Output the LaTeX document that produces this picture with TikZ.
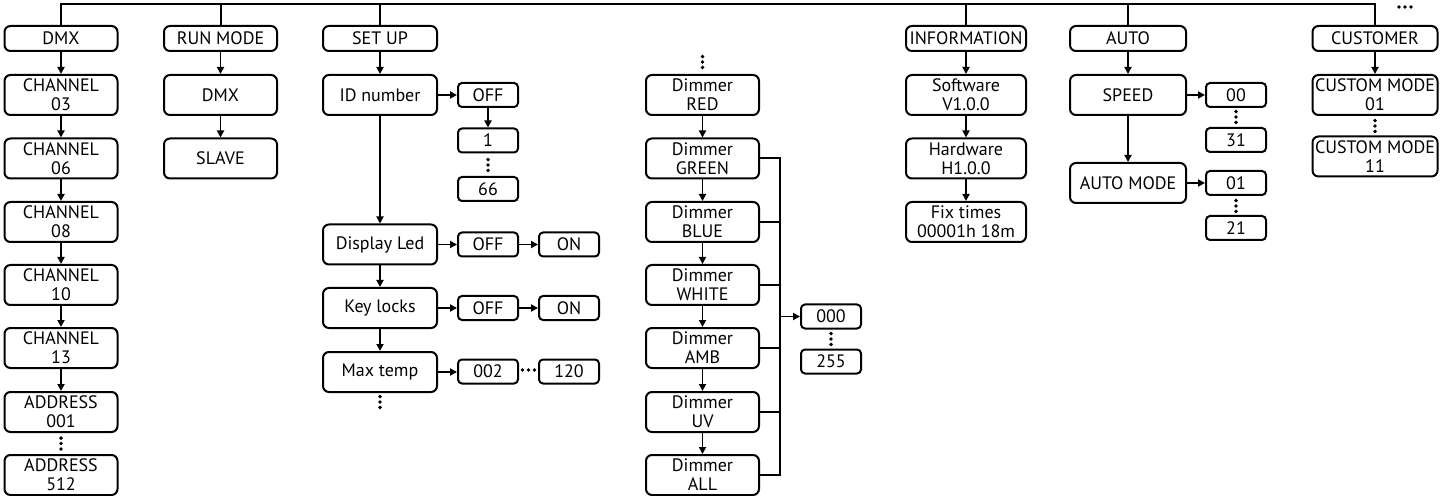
\documentclass[tikz,border=0pt]{standalone}
\usepackage{fontspec}
\setmainfont{PT Sans}
\usetikzlibrary{arrows.meta}

\begin{document}
\begin{tikzpicture}[x=0.5pt, y=-0.5pt, line width=1pt,
  menubox/.style={draw, rounded corners=3pt, minimum width=56.5pt, minimum height=20pt, inner sep=0pt, align=center, font=\fontsize{9}{9.4}\selectfont},
  headbox/.style={menubox, minimum height=12.5pt},
  valbox/.style={menubox, rounded corners=2pt, minimum width=30pt, minimum height=12pt},
  arr/.style={-{Triangle[length=3.5pt,width=3.5pt]}, line width=0.9pt},
  vdotsmark/.style={inner sep=0pt, minimum width=3pt, minimum height=8.5pt,
    path picture={\foreach \k in {-1,0,1} \fill (path picture bounding box.center) ++(0pt,\k*2.7pt) circle (0.95pt);}},
  hdotsmark/.style={inner sep=0pt, minimum width=9.5pt, minimum height=3pt,
    path picture={\foreach \k in {-1,0,1} \fill (path picture bounding box.center) ++(\k*3pt,0pt) circle (0.95pt);}}]
\useasboundingbox (0,0) rectangle (1443,496);
% --- DMX ---
\node[headbox] (dmxhead) at (61,38.5) {DMX};
\node[menubox] (ch03) at (61,95) {CHANNEL\\03};
\node[menubox] (ch06) at (61,158.5) {CHANNEL\\06};
\node[menubox] (ch08) at (61,222) {CHANNEL\\08};
\node[menubox] (ch10) at (61,285) {CHANNEL\\10};
\node[menubox] (ch13) at (61,348) {CHANNEL\\13};
\node[menubox] (addr001) at (61,412) {ADDRESS\\001};
\node[vdotsmark] (dmxdots) at (61,443.5) {};
\node[menubox] (addr512) at (61,475) {ADDRESS\\512};
\draw[arr] (dmxhead) -- (ch03);
\draw[arr] (ch03) -- (ch06);
\draw[arr] (ch06) -- (ch08);
\draw[arr] (ch08) -- (ch10);
\draw[arr] (ch10) -- (ch13);
\draw[arr] (ch13) -- (addr001);
% --- RUN MODE ---
\node[headbox] (runhead) at (220.5,38.5) {RUN MODE};
\node[menubox] (rundmx) at (220.5,95) {DMX};
\node[menubox] (runslave) at (220.5,158.5) {SLAVE};
\draw[arr] (runhead) -- (rundmx);
\draw[arr] (rundmx) -- (runslave);
% --- SET UP ---
\node[headbox, minimum width=57pt] (setuphead) at (380,38.5) {SET UP};
\node[menubox, minimum width=57pt] (idnum) at (380,95) {ID number};
\node[valbox] (idoff) at (488,95) {OFF};
\node[valbox] (id1) at (488,140.5) {1};
\node[vdotsmark] (iddots) at (488,165) {};
\node[valbox] (id66) at (488,189) {66};
\node[menubox, minimum width=57pt] (disp) at (380,244.5) {Display Led};
\node[valbox] (dispoff) at (488,244.5) {OFF};
\node[valbox] (dispon) at (569,244.5) {ON};
\node[menubox, minimum width=57pt] (keyl) at (380,308) {Key locks};
\node[valbox] (keyoff) at (488,308) {OFF};
\node[valbox] (keyon) at (569,308) {ON};
\node[menubox, minimum width=57pt] (maxt) at (380,372) {Max temp};
\node[valbox] (t002) at (488,371.5) {002};
\node[hdotsmark] (tdots) at (528.5,370) {};
\node[valbox] (t120) at (569,371.5) {120};
\node[vdotsmark] (setdots) at (380,402) {};
\draw[arr] (setuphead) -- (idnum);
\draw[arr] (idnum) -- (idoff);
\draw[arr] (idoff) -- (id1);
\draw[arr] (idnum) -- (disp);
\draw[arr] (disp) -- (dispoff);
\draw[arr] (dispoff) -- (dispon);
\draw[arr] (disp) -- (keyl);
\draw[arr] (keyl) -- (keyoff);
\draw[arr] (keyoff) -- (keyon);
\draw[arr] (keyl) -- (maxt);
\draw[arr] (maxt) -- (maxt -| t002.west);
% --- Dimmer ---
\node[vdotsmark] (dimdots) at (702.5,62) {};
\node[menubox] (red) at (702.5,95) {Dimmer\\RED};
\node[menubox] (green) at (702.5,158.5) {Dimmer\\GREEN};
\node[menubox] (blue) at (702.5,222) {Dimmer\\BLUE};
\node[menubox] (white) at (702.5,285) {Dimmer\\WHITE};
\node[menubox] (amb) at (702.5,348) {Dimmer\\AMB};
\node[menubox] (uv) at (702.5,412) {Dimmer\\UV};
\node[menubox] (all) at (702.5,475) {Dimmer\\ALL};
\node[valbox] (v000) at (831,316.5) {000};
\node[vdotsmark] (vdots) at (831,339) {};
\node[valbox] (v255) at (831,361.5) {255};
\coordinate (bus) at (780,158.5);
\draw[arr] (red) -- (green);
\draw[arr] (green) -- (blue);
\draw[arr] (blue) -- (white);
\draw[arr] (white) -- (amb);
\draw[arr] (amb) -- (uv);
\draw[arr] (uv) -- (all);
\draw (green.east) -- (green.east -| bus) -- (all.east -| bus) -- (all.east);
\draw (blue.east) -- (blue.east -| bus);
\draw (white.east) -- (white.east -| bus);
\draw (amb.east) -- (amb.east -| bus);
\draw (uv.east) -- (uv.east -| bus);
\draw[arr] (v000.west -| bus) -- (v000);
% --- INFORMATION ---
\node[headbox, minimum width=60pt] (infohead) at (966,38.5) {INFORMATION};
\node[menubox, minimum width=60pt] (soft) at (966,95) {Software\\V1.0.0};
\node[menubox, minimum width=60pt] (hard) at (966,158.5) {Hardware\\H1.0.0};
\node[menubox, minimum width=60pt] (fix) at (966,222) {Fix times\\00001h 18m};
\draw[arr] (infohead) -- (soft);
\draw[arr] (soft) -- (hard);
\draw[arr] (hard) -- (fix);
% --- AUTO ---
\node[headbox, minimum width=58pt] (autohead) at (1128,38.5) {AUTO};
\node[menubox, minimum width=58pt] (speed) at (1128,95) {SPEED};
\node[menubox, minimum width=58pt] (automode) at (1128,183) {AUTO MODE};
\node[valbox] (s00) at (1236,95) {00};
\node[vdotsmark] (sdots) at (1236,117) {};
\node[valbox] (s31) at (1236,140) {31};
\node[valbox] (am01) at (1236,183) {01};
\node[vdotsmark] (amdots) at (1236,206) {};
\node[valbox] (am21) at (1236,228) {21};
\draw[arr] (autohead) -- (speed);
\draw[arr] (speed) -- (automode);
\draw[arr] (speed) -- (s00);
\draw[arr] (automode) -- (am01);
% --- CUSTOMER ---
\node[headbox, minimum width=62.5pt] (custhead) at (1375,38.5) {CUSTOMER};
\node[menubox, minimum width=62.5pt] (cm01) at (1375,95) {CUSTOM MODE\\01};
\node[vdotsmark] (cmdots) at (1375,126) {};
\node[menubox, minimum width=62.5pt] (cm11) at (1375,156.5) {CUSTOM MODE\\11};
\draw[arr] (custhead) -- (cm01);
% --- Top line ---
\coordinate (topl) at (61,4);
\draw (dmxhead.north) -- (topl) -- (topl -| custhead.north) -- (custhead.north);
\draw (runhead.north) -- (runhead.north |- topl);
\draw (setuphead.north) -- (setuphead.north |- topl);
\draw (infohead.north) -- (infohead.north |- topl);
\draw (autohead.north) -- (autohead.north |- topl);
\node[hdotsmark, minimum width=11pt] (moredots) at (1405,7) {};
\end{tikzpicture}
\end{document}
